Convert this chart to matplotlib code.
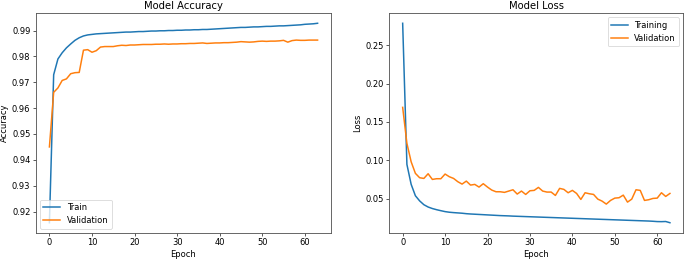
import matplotlib
matplotlib.use("Agg")
import matplotlib.pyplot as plt
import numpy as np

epochs = list(range(64))

train_acc = [0.9157, 0.9729, 0.9790, 0.9814, 0.9833, 0.9848, 0.9862, 0.9872, 0.9879, 0.9883,
             0.9885, 0.9887, 0.9888, 0.9889, 0.9890, 0.9891, 0.9892, 0.9893, 0.9894, 0.9894,
             0.9895, 0.9896, 0.9896, 0.9897, 0.9898, 0.9898, 0.9899, 0.9899, 0.9900, 0.9900,
             0.9901, 0.9901, 0.9902, 0.9902, 0.9903, 0.9903, 0.9904, 0.9904, 0.9905, 0.9906,
             0.9907, 0.9908, 0.9909, 0.9910, 0.9911, 0.9912, 0.9912, 0.9913, 0.9914, 0.9914,
             0.9915, 0.9916, 0.9916, 0.9917, 0.9918, 0.9918, 0.9919, 0.9920, 0.9921, 0.9922,
             0.9924, 0.9925, 0.9926, 0.9928]

val_acc = [0.9450, 0.9661, 0.9678, 0.9707, 0.9713, 0.9733, 0.9737, 0.9738, 0.9824, 0.9826,
           0.9816, 0.9822, 0.9836, 0.9838, 0.9838, 0.9838, 0.9841, 0.9843, 0.9842, 0.9844,
           0.9844, 0.9845, 0.9846, 0.9846, 0.9846, 0.9847, 0.9847, 0.9848, 0.9847, 0.9848,
           0.9848, 0.9849, 0.9849, 0.9850, 0.9850, 0.9851, 0.9852, 0.9850, 0.9851, 0.9852,
           0.9852, 0.9853, 0.9853, 0.9854, 0.9855, 0.9857, 0.9856, 0.9855, 0.9856, 0.9858,
           0.9859, 0.9858, 0.9859, 0.9859, 0.9860, 0.9862, 0.9855, 0.9861, 0.9863, 0.9862,
           0.9862, 0.9863, 0.9863, 0.9863]

train_loss = [0.2787, 0.0946, 0.0686, 0.0537, 0.0470, 0.0420, 0.0390, 0.0370, 0.0355, 0.0342,
              0.0330, 0.0322, 0.0317, 0.0313, 0.0309, 0.0303, 0.0299, 0.0296, 0.0293, 0.0290,
              0.0287, 0.0284, 0.0281, 0.0278, 0.0276, 0.0274, 0.0271, 0.0269, 0.0267, 0.0265,
              0.0263, 0.0261, 0.0259, 0.0257, 0.0255, 0.0253, 0.0251, 0.0249, 0.0247, 0.0245,
              0.0243, 0.0241, 0.0239, 0.0237, 0.0235, 0.0233, 0.0231, 0.0229, 0.0227, 0.0225,
              0.0223, 0.0221, 0.0219, 0.0217, 0.0215, 0.0213, 0.0211, 0.0209, 0.0207, 0.0204,
              0.0200, 0.0199, 0.0201, 0.0185]

val_loss = [0.1690, 0.1220, 0.0980, 0.0829, 0.0772, 0.0763, 0.0824, 0.0750, 0.0759, 0.0759,
            0.0820, 0.0785, 0.0763, 0.0720, 0.0689, 0.0728, 0.0676, 0.0685, 0.0650, 0.0694,
            0.0650, 0.0611, 0.0589, 0.0589, 0.0581, 0.0598, 0.0615, 0.0559, 0.0598, 0.0554,
            0.0602, 0.0607, 0.0646, 0.0598, 0.0585, 0.0585, 0.0541, 0.0633, 0.0620, 0.0576,
            0.0607, 0.0567, 0.0489, 0.0576, 0.0563, 0.0554, 0.0493, 0.0467, 0.0428, 0.0476,
            0.0506, 0.0511, 0.0545, 0.0454, 0.0493, 0.0615, 0.0607, 0.0476, 0.0485, 0.0502,
            0.0506, 0.0576, 0.0528, 0.0567]

plt.rcParams['font.size'] = 10.5
plt.rcParams['lines.linewidth'] = 1.9
plt.rcParams['axes.edgecolor'] = '#555555'
plt.rcParams['axes.linewidth'] = 1.1

W, H = 685, 259
dpi = W / 12.0
fig = plt.figure(figsize=(12, H / dpi), dpi=dpi)

ax1 = fig.add_axes([36 / W, 1 - 232.7 / H, (331 - 36) / W, (232.7 - 13.3) / H])
ax2 = fig.add_axes([389.3 / W, 1 - 232.7 / H, (683.3 - 389.3) / W, (232.7 - 13.3) / H])

ax1.plot(epochs, train_acc, label="Train")
ax1.plot(epochs, val_acc, label="Validation")
ax1.set_title("Model Accuracy")
ax1.set_xlabel("Epoch")
ax1.set_ylabel("Accuracy")
ax1.legend(loc="lower left")

ax2.plot(epochs, train_loss, label="Training")
ax2.plot(epochs, val_loss, label="Validation")
ax2.set_title("Model Loss")
ax2.set_xlabel("Epoch")
ax2.set_ylabel("Loss")
ax2.legend(loc="upper right")

fig.savefig("out.png", dpi=dpi)
